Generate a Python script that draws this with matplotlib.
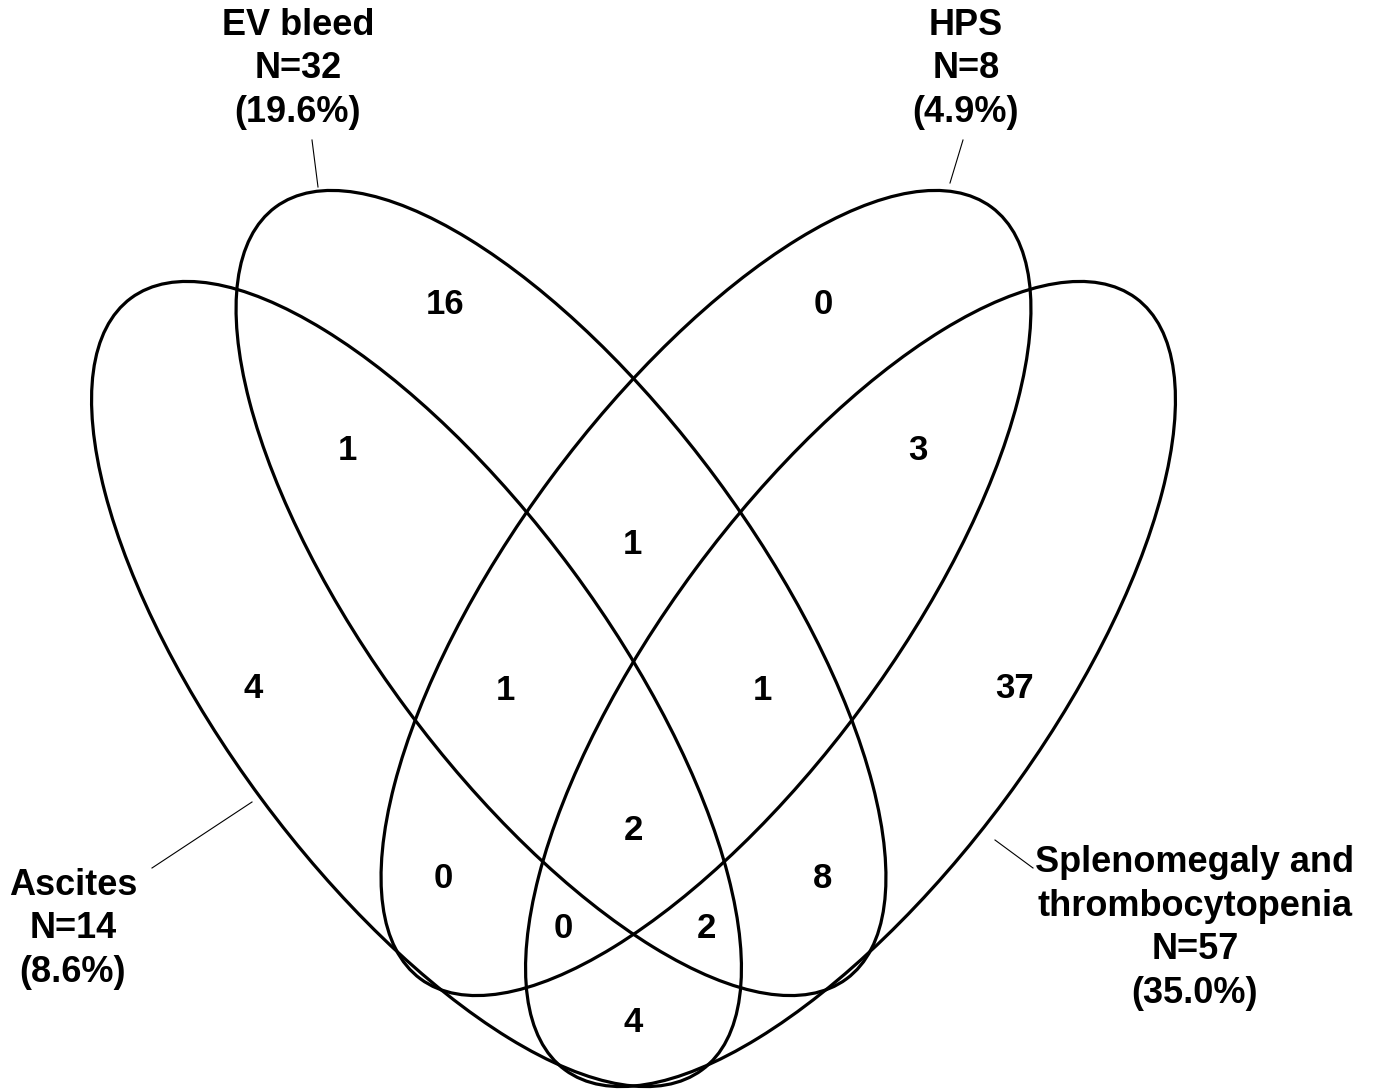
import matplotlib
matplotlib.use("Agg")
import matplotlib.pyplot as plt
from matplotlib.patches import Ellipse

plt.rcParams['font.family'] = ['Liberation Sans', 'DejaVu Sans']

# data
set_names = ['Ascites', 'EV bleed', 'HPS', 'Splenomegaly and\nthrombocytopenia']
set_n = [14, 32, 8, 57]
set_pct = [8.6, 19.6, 4.9, 35.0]

# region counts, keyed by membership (Ascites, EV, HPS, Spleno)
regions = ['A', 'E', 'H', 'S', 'AE', 'HS', 'EH', 'AEH', 'EHS', 'AEHS',
           'AH', 'ES', 'AHS', 'AES', 'AS']
counts = [4, 16, 0, 37, 1, 3, 1, 1, 1, 2, 0, 8, 0, 2, 4]

# layout (pixel space of the 1375x1091 canvas)
region_xy = {'A': (253, 688), 'E': (445, 305), 'H': (823, 305), 'S': (1015, 688),
             'AE': (347, 450), 'HS': (918, 450), 'EH': (632, 545),
             'AEH': (505, 690), 'EHS': (762, 690), 'AEHS': (633, 830),
             'AH': (443, 878), 'ES': (823, 878), 'AHS': (563, 928),
             'AES': (706, 928), 'AS': (633, 1022)}

ell_center = [(416.5, 684), (561, 593), (706, 593), (850.5, 684)]
ell_angle = [53.5, 53.5, -53.5, -53.5]
semi_a, semi_b = 480, 193

label_xy = [(73, 929), (298, 69), (966, 69), (1195, 928)]
leader = [((152, 868), (252, 802)), ((312, 140), (318, 187)),
          ((963, 140), (950, 183)), ((995, 840), (1033, 868))]

fig = plt.figure(figsize=(13.75, 10.91), dpi=100)
ax = fig.add_axes([0, 0, 1, 1])
ax.set_xlim(0, 1375)
ax.set_ylim(1091, 0)
ax.axis('off')

for c, ang in zip(ell_center, ell_angle):
    ax.add_patch(Ellipse(c, 2 * semi_a, 2 * semi_b, angle=ang,
                         fill=False, edgecolor='black', linewidth=2.3))

for r, n in zip(regions, counts):
    x, y = region_xy[r]
    ax.text(x, y, str(n), ha='center', va='center', fontsize=25,
            fontweight='bold')

for name, n, p, (x, y) in zip(set_names, set_n, set_pct, label_xy):
    ax.text(x, y, f"{name}\nN={n}\n({p:.1f}%)", ha='center', va='center',
            fontsize=26, fontweight='bold', linespacing=1.32)

for (p0, p1) in leader:
    ax.plot([p0[0], p1[0]], [p0[1], p1[1]], color='black', linewidth=0.8)

plt.savefig("out.png", dpi=100)
